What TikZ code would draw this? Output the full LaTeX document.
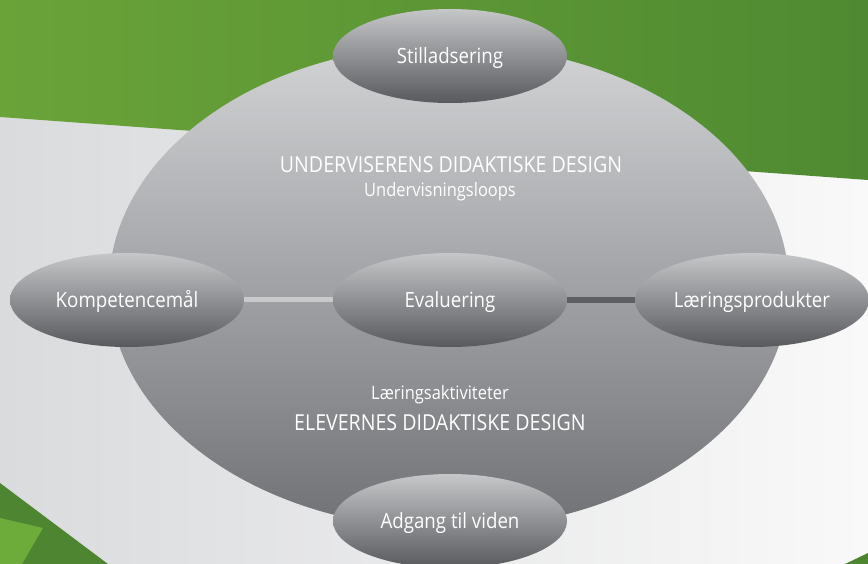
\documentclass[tikz,border=0pt]{standalone}
\usepackage{fontspec}
\setmainfont[FakeStretch=0.89]{Open Sans}
\usetikzlibrary{shapes.geometric}
\definecolor{greenL}{HTML}{6AA338}
\definecolor{greenR}{HTML}{4F8A32}
\definecolor{greenD}{HTML}{4E8530}
\definecolor{greenLt}{HTML}{6DAC3B}
\definecolor{bgL}{HTML}{DADBDD}
\definecolor{bgM}{HTML}{F1F1F2}
\definecolor{bgR}{HTML}{F9F9F9}
\definecolor{bigTop}{HTML}{D2D3D5}
\definecolor{bigBot}{HTML}{707175}
\definecolor{smTop}{HTML}{C6C7C9}
\definecolor{smBot}{HTML}{58595D}
\definecolor{lineLight}{HTML}{C9CACC}
\definecolor{lineDark}{HTML}{5E5F63}
\tikzset{
  bigell/.style={ellipse, inner sep=0pt, minimum width=680pt, minimum height=484pt, top color=bigTop, bottom color=bigBot, draw=none},
  smell/.style={ellipse, inner sep=0pt, minimum width=234pt, minimum height=94pt, top color=smTop, bottom color=smBot, draw=none, text=white, font=\fontsize{21}{24}\selectfont, text height=15pt, text depth=0pt},
  bigtxt/.style={text=white, font=\fontsize{22}{25}\selectfont, inner sep=0pt, text height=15.5pt, text depth=0pt},
  smtxt/.style={text=white, font=\fontsize{18.5}{21}\selectfont, inner sep=0pt, text height=13pt, text depth=0pt},
  lightline/.style={draw=lineLight, line width=5pt},
  darkline/.style={draw=lineDark, line width=6pt}
}
\begin{document}
\begin{tikzpicture}[x=1pt,y=-1pt]
\useasboundingbox (0,0) rectangle (868,564);
\shade[left color=bgL, middle color=bgM, right color=bgR] (0,0) rectangle (868,564);
\shade[left color=greenL, right color=greenR] (0,0) -- (868,0) -- (868,180) -- (0,117) -- cycle;
\fill[greenD] (0,483) -- (108,564) -- (0,564) -- cycle;
\fill[greenLt] (0,518) -- (43,528) -- (22,564) -- (0,564) -- cycle;
\fill[greenD] (845,564) -- (868,553) -- (868,564) -- cycle;

\node[bigell] (big) at (449,287) {};
\node[bigtxt] (t1) at (451,165) {UNDERVISERENS DIDAKTISKE DESIGN};
\node[smtxt] (t2) at (440,190) {Undervisningsloops};
\node[smtxt] (t3) at (440,393) {Læringsaktiviteter};
\node[bigtxt] (t4) at (440,423) {ELEVERNES DIDAKTISKE DESIGN};

\node[smell] (still) at (450,56) {Stilladsering};
\node[smell] (komp) at (127,300) {Kompetencemål};
\node[smell] (eval) at (450,300) {Evaluering};
\node[smell] (laer) at (752,300) {Læringsprodukter};
\node[smell] (adg) at (450,521) {Adgang til viden};

\draw[lightline] (komp.east) -- (eval.west);
\draw[darkline] (eval.east) -- (laer.west);
\end{tikzpicture}
\end{document}
